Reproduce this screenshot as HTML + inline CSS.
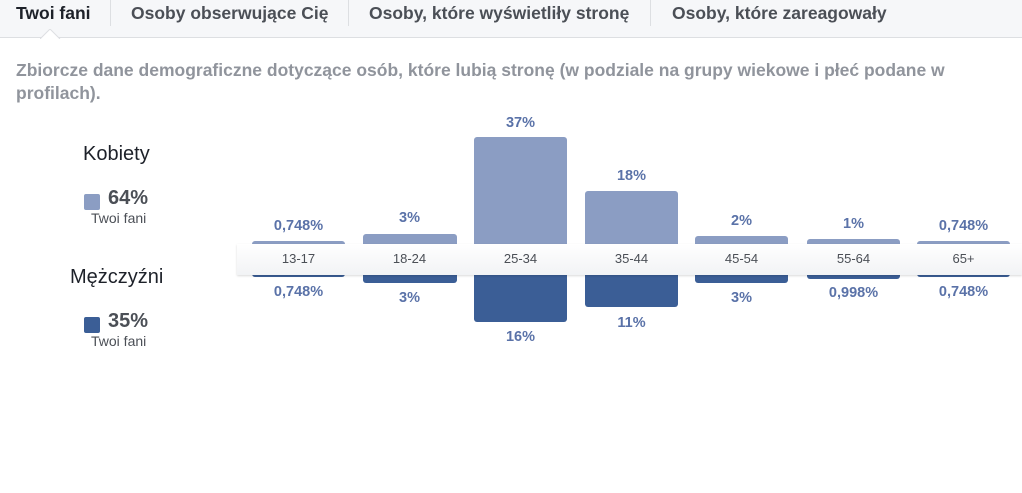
<!DOCTYPE html>
<html><head><meta charset="utf-8"><style>
*{margin:0;padding:0;box-sizing:border-box}
body{width:1022px;height:493px;background:#fff;font-family:"Liberation Sans",Arial,sans-serif;position:relative;overflow:hidden}
.tabs{position:absolute;left:0;top:0;width:1022px;height:38px;background:#f6f7f9;border-bottom:1px solid #dddfe2}
.tab{position:absolute;top:0;height:37px;line-height:26px;font-size:17.5px;color:#4b4f56;font-weight:bold}
.sep{position:absolute;top:0;width:1px;height:26px;background:#dddfe2}
.a{position:absolute}
.desc{position:absolute;left:16px;top:59px;width:960px;font-size:17.5px;font-weight:bold;color:#90949c;line-height:23px}
.bf{position:absolute;background:#8b9dc3;border-radius:3px 3px 0 0}
.bm{position:absolute;background:#3b5e96;border-radius:0 0 3px 3px}
.lbl{position:absolute;width:93px;text-align:center;font-size:14.5px;font-weight:bold;color:#5a72a8}
.band{position:absolute;left:237px;top:244px;width:785px;height:31px;background:linear-gradient(#fff,#f2f3f5);box-shadow:0 1px 2px rgba(0,0,0,.15)}
.ax{position:absolute;top:251px;width:93px;text-align:center;font-size:13px;color:#4b4f56}
</style></head><body>
<div class="tabs">
<div class="tab" style="left:16px;color:#1d2129">Twoi fani</div>
<div class="sep" style="left:110px"></div>
<div class="tab" style="left:131px">Osoby obserwujące Cię</div>
<div class="sep" style="left:348px"></div>
<div class="tab" style="left:369px">Osoby, które wyświetliły stronę</div>
<div class="sep" style="left:650px"></div>
<div class="tab" style="left:672px">Osoby, które zareagowały</div>
</div>
<svg class="a" style="left:40px;top:29px" width="22" height="11"><path d="M0 10 L10 0 L20 10" fill="#fff" stroke="#dddfe2"/><rect x="0" y="10" width="22" height="2" fill="#fff"/></svg>
<div class="desc">Zbiorcze dane demograficzne dotyczące osób, które lubią stronę (w podziale na grupy wiekowe i płeć podane w profilach).</div>

<div class="a" style="left:83px;top:143px;font-size:20px;color:#1d2129">Kobiety</div>
<div class="a" style="left:84px;top:194px;width:16px;height:16px;background:#8b9dc3;border-radius:2px"></div>
<div class="a" style="left:108px;top:187px;font-size:20px;font-weight:bold;color:#4b4f56">64%</div>
<div class="a" style="left:91px;top:210px;font-size:14px;color:#4b4f56">Twoi fani</div>
<div class="a" style="left:70px;top:266px;font-size:20px;color:#1d2129">Mężczyźni</div>
<div class="a" style="left:84px;top:317px;width:16px;height:16px;background:#3b5e96;border-radius:2px"></div>
<div class="a" style="left:108px;top:310px;font-size:20px;font-weight:bold;color:#4b4f56">35%</div>
<div class="a" style="left:91px;top:333px;font-size:14px;color:#4b4f56">Twoi fani</div>

<div class="bf" style="left:252px;top:241px;width:93px;height:4px"></div>
<div class="bf" style="left:363px;top:234px;width:94px;height:11px"></div>
<div class="bf" style="left:474px;top:137px;width:93px;height:108px"></div>
<div class="bf" style="left:585px;top:191px;width:93px;height:54px"></div>
<div class="bf" style="left:695px;top:236px;width:93px;height:9px"></div>
<div class="bf" style="left:807px;top:239px;width:93px;height:6px"></div>
<div class="bf" style="left:917px;top:241px;width:93px;height:4px"></div>

<div class="bm" style="left:252px;top:274px;width:93px;height:3px"></div>
<div class="bm" style="left:363px;top:274px;width:94px;height:9px"></div>
<div class="bm" style="left:474px;top:274px;width:93px;height:48px"></div>
<div class="bm" style="left:585px;top:274px;width:93px;height:33px"></div>
<div class="bm" style="left:695px;top:274px;width:93px;height:9px"></div>
<div class="bm" style="left:807px;top:274px;width:93px;height:5px"></div>
<div class="bm" style="left:917px;top:274px;width:93px;height:3px"></div>

<div class="band"></div>
<div class="ax" style="left:252px">13-17</div>
<div class="ax" style="left:363px">18-24</div>
<div class="ax" style="left:474px">25-34</div>
<div class="ax" style="left:585px">35-44</div>
<div class="ax" style="left:695px">45-54</div>
<div class="ax" style="left:807px">55-64</div>
<div class="ax" style="left:917px">65+</div>

<div class="lbl" style="left:252px;top:218px">0,748%</div>
<div class="lbl" style="left:363px;top:210px">3%</div>
<div class="lbl" style="left:474px;top:115px">37%</div>
<div class="lbl" style="left:585px;top:168px">18%</div>
<div class="lbl" style="left:695px;top:213px">2%</div>
<div class="lbl" style="left:807px;top:216px">1%</div>
<div class="lbl" style="left:917px;top:218px">0,748%</div>

<div class="lbl" style="left:252px;top:284px">0,748%</div>
<div class="lbl" style="left:363px;top:290px">3%</div>
<div class="lbl" style="left:474px;top:329px">16%</div>
<div class="lbl" style="left:585px;top:315px">11%</div>
<div class="lbl" style="left:695px;top:290px">3%</div>
<div class="lbl" style="left:807px;top:285px">0,998%</div>
<div class="lbl" style="left:917px;top:284px">0,748%</div>
</body></html>
